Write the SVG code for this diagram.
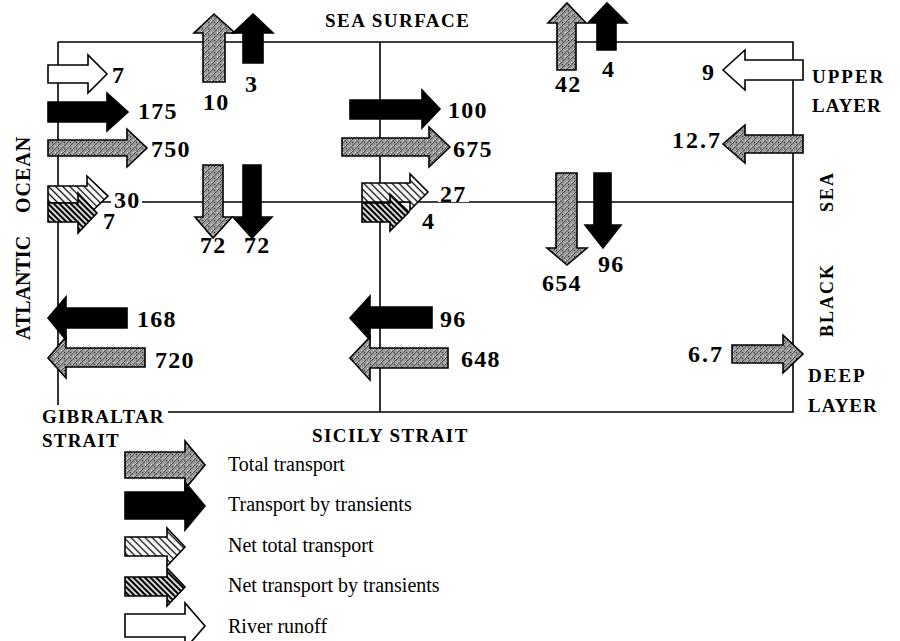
<svg xmlns="http://www.w3.org/2000/svg" width="900" height="641" viewBox="0 0 900 641">
<defs>
<pattern id="stip" width="6" height="6" patternUnits="userSpaceOnUse">
<rect width="6" height="6" fill="#9a9a9a"/>
<path d="M-1,1 L1,-1 M0,6 L6,0 M5,7 L7,5" stroke="#4a4a4a" stroke-width="1"/>
<rect x="1" y="2" width="1" height="1" fill="#e6e6e6"/>
<rect x="4" y="4" width="1" height="1" fill="#222"/>
<rect x="3" y="1" width="1" height="1" fill="#d0d0d0"/>
<rect x="0" y="4" width="1" height="1" fill="#ccc"/>
</pattern>
<pattern id="hl" width="5" height="5" patternUnits="userSpaceOnUse" patternTransform="rotate(-45)">
<rect width="5" height="5" fill="#fff"/>
<line x1="2.5" y1="0" x2="2.5" y2="5" stroke="#000" stroke-width="1.3"/>
</pattern>
<pattern id="hd" width="4" height="4" patternUnits="userSpaceOnUse" patternTransform="rotate(-45)">
<rect width="4" height="4" fill="#fff"/>
<line x1="2" y1="0" x2="2" y2="4" stroke="#000" stroke-width="2.3"/>
</pattern>
</defs>
<style>
.num{font-family:"Liberation Serif",serif;font-weight:bold;font-size:24px;letter-spacing:1.2px;fill:#000}
.lbl{font-family:"Liberation Serif",serif;font-weight:bold;font-size:19px;letter-spacing:1.5px;fill:#000}
.leg{font-family:"Liberation Serif",serif;font-size:20px;fill:#000}
.ln{stroke:#000;stroke-width:1.6;fill:none}
.a{stroke:#000;stroke-width:1.6;stroke-linejoin:miter}
.blk{fill:#000}
.wht{fill:#fff}
.gry{fill:url(#stip)}
.hl{fill:url(#hl)}
.hd{fill:url(#hd)}
</style>
<rect width="900" height="641" fill="#fff"/>

<g id="connectors">
<path class="ln" d="M58,42 H793 V412 H168"/>
<path class="ln" d="M58,42 V405"/>
<path class="ln" d="M380,42 V412"/>
<path class="ln" d="M58,202 H793"/>
</g>

<g id="labels">
<text class="lbl" x="325" y="27">SEA SURFACE</text>
<text class="lbl" x="812" y="83" style="letter-spacing:2px">UPPER</text>
<text class="lbl" x="812" y="112" style="letter-spacing:1px">LAYER</text>
<text class="lbl" x="808" y="382" style="letter-spacing:2px">DEEP</text>
<text class="lbl" x="808" y="412" style="letter-spacing:1px">LAYER</text>
<text class="lbl" x="42" y="423" style="letter-spacing:1.2px">GIBRALTAR</text>
<text class="lbl" x="42" y="447" style="letter-spacing:1.2px">STRAIT</text>
<text class="lbl" x="312" y="442" style="letter-spacing:1.4px">SICILY STRAIT</text>
<text class="lbl" transform="translate(30,340) rotate(-90)" style="font-size:20px;letter-spacing:0px">ATLANTIC</text>
<text class="lbl" transform="translate(30,213) rotate(-90)" style="font-size:20px;letter-spacing:1px">OCEAN</text>
<text class="lbl" transform="translate(833,337) rotate(-90)" style="font-size:18px;letter-spacing:2px">BLACK</text>
<text class="lbl" transform="translate(833,212) rotate(-90)" style="font-size:18px;letter-spacing:2px">SEA</text>
</g>

<g id="gib-river">
<path class="a wht" d="M48,65 H88 V55 L107,74 L88,93 V83 H48 Z"/>
<text class="num" x="112" y="83">7</text>
</g>
<g id="gib-transient-in">
<path class="a blk" d="M48,102 H107 V93 L128,112 L107,131 V122 H48 Z"/>
<text class="num" x="138" y="119">175</text>
</g>
<g id="gib-total-in">
<path class="a gry" d="M48,140 H127 V129 L147,148 L127,167 V156 H48 Z"/>
<text class="num" x="151" y="157">750</text>
</g>
<g id="gib-net-total">
<path class="a hl" d="M48,186 H87 V176 L108,196 L87,216 V203 H48 Z"/>
<rect x="111" y="190" width="31" height="18" fill="#fff"/>
<text class="num" x="114" y="208">30</text>
</g>
<g id="gib-net-transient">
<path class="a hd" d="M48,203 H78 V193 L97,213 L78,233 V222 H48 Z"/>
<text class="num" x="103" y="229">7</text>
</g>
<g id="gib-transient-out">
<path class="a blk" d="M127,308 H66 V297 L48,318 L66,340 V328 H127 Z"/>
<text class="num" x="137" y="327">168</text>
</g>
<g id="gib-total-out">
<path class="a gry" d="M145,348 H66 V337 L48,358 L66,378 V367 H145 Z"/>
<text class="num" x="155" y="368">720</text>
</g>

<g id="west-up-total">
<path class="a gry" d="M203,82 V33 H194 L214,14 L235,33 H225 V82 Z"/>
<text class="num" x="203" y="110">10</text>
</g>
<g id="west-up-transient">
<path class="a blk" d="M243,63 V33 H233 L253,14 L273,33 H263 V63 Z"/>
<text class="num" x="245" y="92">3</text>
</g>
<g id="west-down-total">
<path class="a gry" d="M203,165 V217 H195 L213,238 L232,217 H223 V165 Z"/>
<text class="num" x="200" y="253">72</text>
</g>
<g id="west-down-transient">
<path class="a blk" d="M243,165 V217 H233 L252,238 L272,217 H261 V165 Z"/>
<text class="num" x="244" y="253">72</text>
</g>

<g id="sic-transient-in">
<path class="a blk" d="M350,100 H422 V90 L440,109 L422,128 V119 H350 Z"/>
<text class="num" x="448" y="118">100</text>
</g>
<g id="sic-total-in">
<path class="a gry" d="M342,138 H429 V127 L450,147 L429,167 V156 H342 Z"/>
<text class="num" x="453" y="157">675</text>
</g>
<g id="sic-net-total">
<path class="a hl" d="M362,183 H410 V174 L428,192 L410,210 V202 H362 Z"/>
<rect x="438" y="185" width="31" height="17" fill="#fff"/>
<text class="num" x="440" y="202">27</text>
</g>
<g id="sic-net-transient">
<path class="a hd" d="M362,203 H390 V194 L409,212 L390,231 V222 H362 Z"/>
<text class="num" x="422" y="229">4</text>
</g>
<g id="sic-transient-out">
<path class="a blk" d="M432,307 H370 V296 L350,318 L370,340 V328 H432 Z"/>
<text class="num" x="440" y="327">96</text>
</g>
<g id="sic-total-out">
<path class="a gry" d="M448,348 H370 V337 L350,358 L370,380 V368 H448 Z"/>
<text class="num" x="461" y="367">648</text>
</g>

<g id="east-up-total">
<path class="a gry" d="M557,70 V23 H548 L567,3 L586,23 H576 V70 Z"/>
<text class="num" x="555" y="92">42</text>
</g>
<g id="east-up-transient">
<path class="a blk" d="M597,50 V23 H588 L607,3 L627,23 H616 V50 Z"/>
<text class="num" x="602" y="77">4</text>
</g>
<g id="east-down-total">
<path class="a gry" d="M556,173 V248 H547 L567,265 L587,248 H577 V173 Z"/>
<text class="num" x="542" y="291">654</text>
</g>
<g id="east-down-transient">
<path class="a blk" d="M594,173 V225 H585 L603,248 L621,225 H611 V173 Z"/>
<text class="num" x="598" y="272">96</text>
</g>

<g id="bs-river">
<path class="a wht" d="M803,60 H745 V50 L723,70 L745,90 V80 H803 Z"/>
<text class="num" x="702" y="80">9</text>
</g>
<g id="bs-total-in">
<path class="a gry" d="M803,135 H745 V125 L723,144 L745,163 V153 H803 Z"/>
<text class="num" x="672" y="148" style="letter-spacing:2px">12.7</text>
</g>
<g id="bs-total-out">
<path class="a gry" d="M732,345 H783 V335 L803,354 L783,373 V363 H732 Z"/>
<text class="num" x="688" y="362" style="letter-spacing:2px">6.7</text>
</g>

<g id="legend">
<path class="a gry" d="M125,452 H185 V441 L205,465 L185,489 V478 H125 Z"/>
<text class="leg" x="228" y="471">Total transport</text>
<path class="a blk" d="M125,492 H185 V482 L205,506 L185,530 V519 H125 Z"/>
<text class="leg" x="228" y="511">Transport by transients</text>
<path class="a hl" d="M125,537 H167 V528 L185,547 L167,566 V556 H125 Z"/>
<text class="leg" x="228" y="552">Net total transport</text>
<path class="a hd" d="M125,577 H167 V568 L185,587 L167,606 V596 H125 Z"/>
<text class="leg" x="228" y="592">Net transport by transients</text>
<path class="a wht" d="M125,614 H185 V603 L205,626 L185,649 V637 H125 Z"/>
<text class="leg" x="228" y="633">River runoff</text>
</g>
</svg>
